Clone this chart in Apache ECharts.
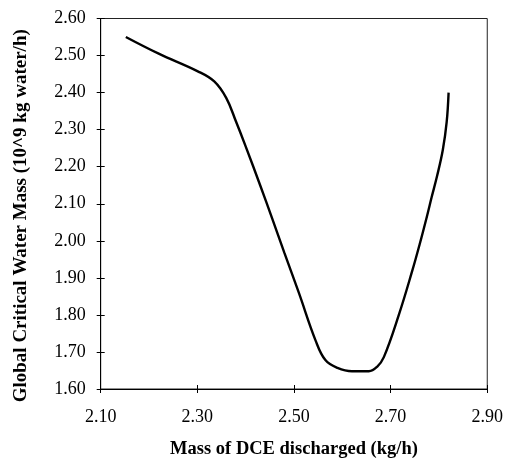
<!DOCTYPE html>
<html>
<head>
<meta charset="utf-8">
<script src="https://cdn.jsdelivr.net/npm/echarts@6/dist/echarts.min.js"></script>
<style>
html,body{margin:0;padding:0;background:#fff;}
#chart{width:506px;height:464px;}
</style>
</head>
<body>
<div id="chart"></div>
<script>
var xTitle = 'Mass of DCE discharged (kg/h)';
var yTitle = 'Global Critical Water Mass (10^9 kg water/h)';
var xTicks = [2.10, 2.30, 2.50, 2.70, 2.90];
var yTicks = [1.60, 1.70, 1.80, 1.90, 2.00, 2.10, 2.20, 2.30, 2.40, 2.50, 2.60];
var massDCE = [2.152, 2.22, 2.30, 2.335, 2.36, 2.38, 2.40, 2.43, 2.455, 2.48, 2.51, 2.545, 2.565, 2.59, 2.62, 2.655, 2.672, 2.686, 2.717, 2.745, 2.76, 2.775, 2.785, 2.796, 2.808, 2.816, 2.82];
var waterMass = [2.550, 2.505, 2.458, 2.430, 2.385, 2.322, 2.255, 2.150, 2.060, 1.968, 1.860, 1.730, 1.678, 1.657, 1.648, 1.648, 1.660, 1.686, 1.800, 1.920, 1.990, 2.065, 2.118, 2.174, 2.245, 2.320, 2.400];

var pts = massDCE.map(function (x, i) { return [x, waterMass[i]]; });
var font = 'Liberation Serif';
var fmt = function (v) { return v.toFixed(2); };

var chart = echarts.init(document.getElementById('chart'), null, {renderer: 'canvas'});
chart.setOption({
  animation: false,
  backgroundColor: '#fff',
  grid: {left: 100.7, right: 17.5, top: 18.5, bottom: 66, show: true, borderColor: '#222', borderWidth: 1, containLabel: false},
  xAxis: [{
    type: 'value', min: xTicks[0], max: xTicks[xTicks.length - 1], interval: 0.2, position: 'bottom',
    name: xTitle, nameLocation: 'middle', nameGap: 51,
    nameTextStyle: {fontFamily: font, fontWeight: 'bold', fontSize: 18.5, color: '#000'},
    axisLine: {show: true, lineStyle: {color: '#000', width: 1}},
    axisTick: {show: true, inside: false, length: 4, lineStyle: {color: '#000'}},
    axisLabel: {fontFamily: font, fontSize: 18, color: '#000', margin: 19, formatter: fmt},
    splitLine: {show: false}
  }, {
    type: 'value', min: xTicks[0], max: xTicks[xTicks.length - 1], interval: 0.2, position: 'bottom', offset: 0,
    axisLine: {show: false},
    axisTick: {show: true, inside: true, length: 4, lineStyle: {color: '#000'}},
    axisLabel: {show: false}, splitLine: {show: false}
  }],
  yAxis: [{
    type: 'value', min: yTicks[0], max: yTicks[yTicks.length - 1], interval: 0.1, position: 'left',
    name: yTitle, nameLocation: 'middle', nameGap: 70,
    nameTextStyle: {fontFamily: font, fontWeight: 'bold', fontSize: 19, color: '#000', padding: [0, 24, 0, 0]},
    axisLine: {show: true, lineStyle: {color: '#000', width: 1}},
    axisTick: {show: true, inside: false, length: 4, lineStyle: {color: '#000'}},
    axisLabel: {fontFamily: font, fontSize: 18, color: '#000', margin: 15, formatter: fmt},
    splitLine: {show: false}
  }, {
    type: 'value', min: yTicks[0], max: yTicks[yTicks.length - 1], interval: 0.1, position: 'left', offset: 0,
    axisLine: {show: false},
    axisTick: {show: true, inside: true, length: 4, lineStyle: {color: '#000'}},
    axisLabel: {show: false}, splitLine: {show: false}
  }],
  series: [{
    type: 'line', xAxisIndex: 0, yAxisIndex: 0, data: pts, smooth: 0.4,
    showSymbol: false, symbol: 'none',
    lineStyle: {color: '#000', width: 2.4}
  }]
});
</script>
</body>
</html>
